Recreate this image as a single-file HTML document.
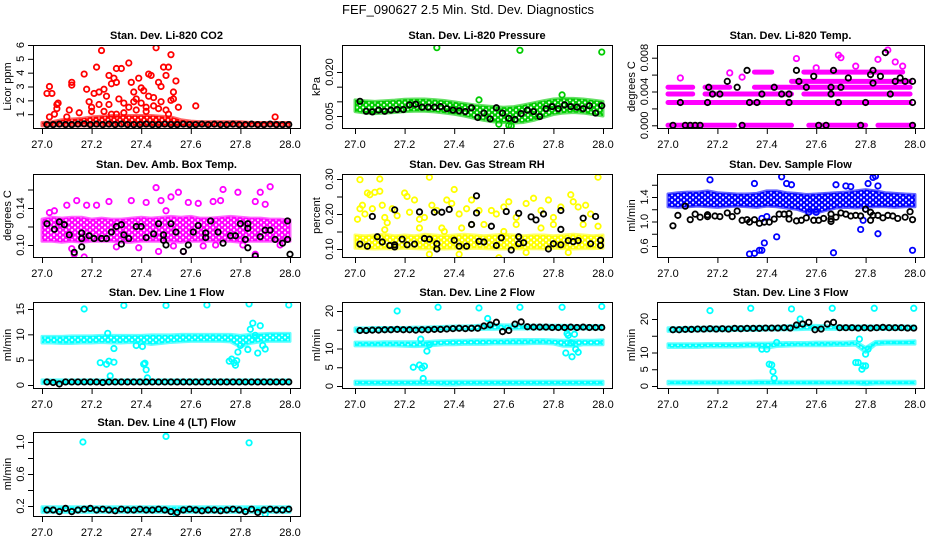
<!DOCTYPE html>
<html><head><meta charset="utf-8"><style>
html,body{margin:0;padding:0;background:#fff}
svg text{font-family:"Liberation Sans",sans-serif;fill:#000}
</style></head><body>
<svg id="c" width="936" height="540" viewBox="0 0 936 540" xmlns="http://www.w3.org/2000/svg">
<defs id="defs"></defs>
<text x="468" y="14" text-anchor="middle" font-size="13">FEF_090627  2.5 Min. Std. Dev. Diagnostics</text>
</svg>
<script>
// ---------- shared time grids ----------
const tBand=[27.0,27.04,27.08,27.12,27.16,27.2,27.24,27.28,27.32,27.36,27.4,27.44,27.48,27.52,27.56,27.6,27.64,27.68,27.72,27.76,27.8,27.84,27.88,27.92,27.96,28.0];
const tBlk=[27.02,27.045,27.07,27.095,27.12,27.145,27.17,27.195,27.22,27.245,27.27,27.295,27.32,27.345,27.37,27.395,27.42,27.445,27.47,27.495,27.52,27.545,27.57,27.595,27.62,27.645,27.67,27.695,27.72,27.745,27.77,27.795,27.82,27.845,27.87,27.895,27.92,27.945,27.97,27.995];
const xTicks=[27.0,27.2,27.4,27.6,27.8,28.0];
const xTickLabels=["27.0","27.2","27.4","27.6","27.8","28.0"];

// ---------- P1 CO2 ----------
const co2Lo=[0.15,0.15,0.15,0.15,0.15,0.15,0.15,0.15,0.15,0.15,0.15,0.15,0.15,0.15,0.15,0.15,0.15,0.15,0.15,0.15,0.15,0.15,0.15,0.15,0.15,0.15];
const co2Hi=[0.4,0.45,0.6,0.65,0.7,0.8,0.85,0.9,0.9,0.9,0.9,0.9,0.85,0.8,0.6,0.5,0.45,0.45,0.45,0.45,0.45,0.4,0.4,0.4,0.4,0.4];
const co2X=[27.02,27.03,27.04,27.03,27.05,27.06,27.065,27.06,27.11,27.12,27.12,27.17,27.18,27.19,27.2,27.21,27.22,27.23,27.24,27.25,27.26,27.27,27.28,27.29,27.3,27.31,27.32,27.3,27.33,27.35,27.36,27.37,27.38,27.39,27.4,27.41,27.42,27.43,27.44,27.45,27.46,27.47,27.48,27.49,27.5,27.51,27.52,27.52,27.53,27.54,27.55,27.62,27.94,27.27,27.3,27.35,27.4,27.45,27.5,27.23,27.2,27.37,27.43,27.48,27.53,27.1,27.15,27.25,27.28,27.33,27.38,27.42,27.47,27.51];
const co2Y=[2.5,3.0,2.5,0.8,1.0,1.7,1.8,1.4,1.3,3.3,3.1,3.9,2.8,1.9,1.5,2.5,4.4,2.6,5.6,2.8,2.3,3.8,3.2,3.6,4.3,2.1,4.3,3.3,1.8,4.7,3.3,2.6,2.1,3.6,2.9,2.7,1.5,3.9,3.8,2.2,5.8,3.3,3.0,4.4,3.8,4.4,5.3,2.0,2.6,3.4,1.5,1.6,0.8,1.7,1.0,1.5,1.8,1.6,1.3,1.7,1.2,1.9,2.3,1.9,2.1,0.8,1.1,1.2,1.0,1.1,1.3,1.2,1.4,1.0];
const co2Blk=[0.25,0.25,0.28,0.25,0.25,0.28,0.3,0.25,0.28,0.25,0.28,0.25,0.28,0.25,0.25,0.25,0.28,0.25,0.25,0.28,0.25,0.25,0.28,0.25,0.25,0.28,0.25,0.28,0.25,0.25,0.28,0.25,0.25,0.28,0.25,0.25,0.28,0.25,0.25,0.25];

// ---------- P2 Pressure ----------
const presLo=[0.0065,0.006,0.0058,0.006,0.0062,0.0065,0.0066,0.0066,0.0064,0.006,0.0056,0.005,0.0042,0.0035,0.003,0.0028,0.0026,0.0028,0.0035,0.0045,0.0055,0.006,0.0062,0.006,0.0055,0.005];
const presHi=[0.0105,0.0102,0.01,0.0102,0.0104,0.0107,0.0108,0.0108,0.0106,0.0103,0.0098,0.0093,0.0088,0.0085,0.0082,0.008,0.0082,0.0088,0.0095,0.0102,0.0108,0.011,0.011,0.0108,0.0104,0.01];
const presX=[27.33,27.665,27.995,27.835,27.58,27.62,27.63,27.5];
const presY=[0.0283,0.0274,0.0268,0.0122,0.0022,0.0018,0.0016,0.0105];
const presBlk=[0.0100,0.0066,0.0064,0.007,0.0066,0.007,0.0072,0.0072,0.0088,0.009,0.008,0.008,0.008,0.0082,0.0075,0.007,0.0068,0.0065,0.0078,0.0045,0.006,0.004,0.0078,0.006,0.0042,0.0038,0.0058,0.007,0.0065,0.0048,0.0075,0.0082,0.0075,0.0088,0.0082,0.008,0.0075,0.0085,0.006,0.0085];

// ---------- P3 Li-820 Temp (discrete levels) ----------
const tempSegStart=[27.0,27.3,27.57,27.85,27.0,27.0,27.15,27.55,27.0,27.15,27.35,27.5,27.5,27.35,27.55];
const tempSegEnd=[27.27,27.5,27.8,27.99,27.98,27.1,27.5,27.98,27.1,27.25,27.5,27.98,27.98,27.42,27.95];
const tempSegVal=[0,0,0,0,0.0027,0.0037,0.0037,0.0037,0.0045,0.0045,0.0045,0.0045,0.0052,0.0063,0.0063];
const tempX=[27.05,27.3,27.25,27.52,27.69,27.7,27.76,27.85,27.89,27.92,27.95,27.6];
const tempY=[0.0056,0.0057,0.0062,0.0079,0.0083,0.008,0.007,0.0078,0.0089,0.0075,0.007,0.0068];
const tempBlkX=[27.02,27.05,27.07,27.09,27.11,27.13,27.16,27.165,27.18,27.21,27.24,27.28,27.3,27.32,27.33,27.36,27.38,27.43,27.46,27.49,27.49,27.52,27.53,27.56,27.59,27.61,27.64,27.66,27.66,27.67,27.69,27.7,27.73,27.78,27.8,27.82,27.83,27.83,27.86,27.88,27.9,27.92,27.94,27.96,27.99,27.99,27.99];
const tempBlkY=[0,0.0027,0,0,0,0,0.0027,0.0045,0.0037,0.0037,0.0052,0.0045,0,0.0065,0.0027,0.0027,0.0037,0.0045,0.0037,0.0037,0.0027,0.0065,0.0052,0.0045,0.0058,0,0,0.0037,0.0045,0.0065,0.0027,0.0045,0.0056,0,0.0027,0.006,0.0065,0.005,0.0058,0.0086,0.0037,0.0052,0.0056,0.0052,0.0052,0.0027,0];

// ---------- P4 Amb Box Temp ----------
const boxLo=[0.104,0.104,0.103,0.104,0.103,0.104,0.104,0.104,0.103,0.103,0.104,0.104,0.104,0.104,0.103,0.104,0.104,0.104,0.104,0.104,0.103,0.104,0.104,0.104,0.104,0.104];
const boxHi=[0.128,0.13,0.129,0.13,0.13,0.128,0.129,0.128,0.128,0.129,0.13,0.129,0.13,0.131,0.13,0.131,0.129,0.129,0.13,0.131,0.13,0.129,0.129,0.128,0.128,0.127];
const boxX=[27.12,27.46,27.55,27.73,27.79,27.92,27.27,27.36,27.48,27.14,27.1,27.18,27.22,27.42,27.5,27.52,27.59,27.63,27.69,27.72,27.86,27.88,27.9,27.03,27.05,27.17,27.13,27.47,27.57,27.86,27.96,27.81,27.7,27.3,27.53,27.12,27.39,27.65];
const boxY=[0.18,0.162,0.157,0.16,0.157,0.163,0.147,0.148,0.148,0.148,0.143,0.143,0.143,0.146,0.137,0.152,0.146,0.145,0.147,0.148,0.147,0.157,0.144,0.135,0.137,0.087,0.09,0.093,0.093,0.09,0.1,0.1,0.1,0.098,0.099,0.096,0.097,0.099];
const boxBlkX=[27.02,27.05,27.07,27.09,27.11,27.13,27.16,27.16,27.16,27.19,27.21,27.24,27.26,27.28,27.3,27.32,27.32,27.33,27.35,27.38,27.4,27.42,27.45,27.47,27.49,27.49,27.5,27.52,27.54,27.57,27.59,27.61,27.63,27.66,27.66,27.68,27.71,27.73,27.76,27.78,27.8,27.82,27.83,27.83,27.83,27.86,27.88,27.9,27.92,27.94,27.97,27.99,27.99,28.0];
const boxBlkY=[0.123,0.117,0.125,0.122,0.111,0.092,0.113,0.107,0.098,0.11,0.107,0.107,0.107,0.114,0.12,0.122,0.101,0.111,0.107,0.12,0.12,0.108,0.112,0.123,0.111,0.105,0.1,0.123,0.114,0.093,0.1,0.114,0.121,0.108,0.113,0.126,0.114,0.102,0.11,0.11,0.123,0.106,0.123,0.097,0.118,0.088,0.109,0.116,0.116,0.106,0.102,0.126,0.106,0.09];

// ---------- P5 Gas Stream RH ----------
const rhLo=[0.102,0.101,0.1,0.101,0.1,0.102,0.101,0.1,0.101,0.1,0.101,0.1,0.102,0.101,0.1,0.1,0.101,0.1,0.101,0.1,0.102,0.101,0.1,0.101,0.101,0.102];
const rhHi=[0.14,0.138,0.14,0.142,0.138,0.14,0.138,0.142,0.14,0.138,0.14,0.142,0.14,0.138,0.14,0.142,0.14,0.138,0.14,0.14,0.138,0.14,0.142,0.14,0.138,0.14];
const rhX=[27.01,27.02,27.02,27.03,27.04,27.05,27.06,27.07,27.08,27.1,27.1,27.11,27.12,27.13,27.15,27.17,27.2,27.21,27.22,27.24,27.26,27.28,27.3,27.31,27.33,27.35,27.37,27.39,27.4,27.42,27.45,27.47,27.5,27.52,27.55,27.57,27.6,27.62,27.65,27.69,27.72,27.75,27.78,27.8,27.83,27.87,27.88,27.9,27.93,27.95,27.98,27.98,27.32,27.36,27.43,27.58,27.42,27.86,27.69,27.3,27.6,27.75,27.12,27.26,27.47,27.65,27.8,27.92];
const rhY=[0.185,0.215,0.298,0.225,0.2,0.26,0.255,0.215,0.262,0.265,0.3,0.225,0.19,0.175,0.215,0.195,0.26,0.25,0.205,0.24,0.185,0.19,0.305,0.225,0.21,0.16,0.24,0.23,0.27,0.2,0.215,0.24,0.21,0.17,0.21,0.2,0.22,0.235,0.19,0.23,0.245,0.21,0.24,0.19,0.22,0.255,0.235,0.22,0.225,0.2,0.305,0.165,0.13,0.15,0.16,0.075,0.085,0.09,0.09,0.085,0.15,0.16,0.155,0.16,0.17,0.17,0.17,0.17];
const rhBlkX=[27.02,27.05,27.07,27.09,27.11,27.14,27.16,27.16,27.16,27.19,27.21,27.24,27.26,27.28,27.3,27.32,27.33,27.33,27.35,27.38,27.4,27.42,27.45,27.47,27.49,27.49,27.5,27.52,27.55,27.57,27.59,27.61,27.63,27.66,27.66,27.66,27.68,27.71,27.73,27.76,27.78,27.8,27.83,27.83,27.83,27.86,27.88,27.9,27.92,27.95,27.97,27.99,27.99];
const rhBlkY=[0.114,0.108,0.193,0.135,0.12,0.11,0.212,0.112,0.106,0.128,0.112,0.114,0.206,0.13,0.128,0.205,0.115,0.1,0.205,0.213,0.125,0.108,0.108,0.17,0.252,0.203,0.122,0.12,0.165,0.11,0.132,0.207,0.097,0.202,0.135,0.115,0.118,0.192,0.183,0.2,0.1,0.115,0.21,0.156,0.112,0.124,0.121,0.124,0.188,0.115,0.193,0.11,0.125];

// ---------- P6 Sample Flow ----------
const flowLo=[1.24,1.23,1.24,1.25,1.24,1.23,1.24,1.25,1.24,1.23,1.25,1.24,1.22,1.2,1.15,1.14,1.18,1.22,1.23,1.22,1.23,1.24,1.24,1.23,1.24,1.24];
const flowHi=[1.45,1.47,1.48,1.48,1.5,1.47,1.46,1.45,1.45,1.46,1.5,1.5,1.47,1.46,1.44,1.45,1.46,1.47,1.48,1.5,1.52,1.5,1.47,1.46,1.45,1.44];
const flowX=[27.33,27.35,27.37,27.38,27.39,27.44,27.67,27.78,27.85,27.99,27.46,27.48,27.5,27.35,27.17,27.68,27.81,27.83,27.84,27.85,27.72,27.4,27.38,27.79,27.8,27.74,27.57,27.6];
const flowY=[0.47,0.48,0.53,0.53,0.65,0.75,0.49,0.87,0.8,0.53,1.73,1.62,1.6,1.62,1.68,1.6,1.62,1.72,1.74,1.58,1.58,1.08,1.05,1.02,1.2,1.57,1.15,1.15];
const flowBlkX=[27.02,27.04,27.07,27.09,27.11,27.13,27.16,27.16,27.19,27.21,27.24,27.26,27.28,27.3,27.32,27.33,27.35,27.37,27.39,27.41,27.43,27.45,27.47,27.49,27.49,27.52,27.54,27.56,27.59,27.61,27.63,27.66,27.66,27.66,27.68,27.7,27.72,27.74,27.76,27.78,27.8,27.82,27.82,27.83,27.85,27.87,27.89,27.91,27.93,27.96,27.98,27.99];
const flowBlkY=[0.93,1.1,1.25,1.03,1.12,1.07,1.08,1.11,1.09,1.08,1.14,1.08,1.17,1.02,1.03,0.99,1.03,0.97,0.99,0.99,1.04,1.12,1.12,1.13,1.04,1.01,1.02,1.06,1.02,1.02,1.05,1.12,1.0,1.04,1.07,1.14,1.12,1.09,1.1,1.09,1.2,1.02,1.15,1.1,1.1,1.06,1.1,1.09,1.05,1.07,1.16,1.03];

// ---------- P7 Line 1 Flow ----------
const l1Lo=[8.3,8.3,8.2,8.2,8.3,8.3,8.4,8.3,8.3,8.4,8.3,8.0,8.2,8.4,8.5,8.6,8.6,8.6,8.6,8.5,7.5,8.2,8.5,8.6,8.6,8.6];
const l1Hi=[9.6,9.6,9.6,9.7,9.7,9.7,9.8,9.8,9.8,9.8,9.8,9.9,9.9,9.9,10.0,10.0,10.0,10.0,10.0,10.0,9.8,10.0,10.1,10.2,10.2,10.2];
const l1BaseLo=[0.3,0.3,0.3,0.3,0.3,0.3,0.3,0.3,0.3,0.3,0.3,0.3,0.3,0.3,0.3,0.3,0.3,0.3,0.3,0.3,0.3,0.3,0.3,0.3,0.3,0.3];
const l1BaseHi=[1.0,1.0,1.0,1.0,1.0,1.0,1.0,1.0,1.0,1.0,1.0,1.0,1.0,1.0,1.0,1.0,1.0,1.0,1.0,1.0,1.0,1.0,1.0,1.0,1.0,1.0];
const l1X=[27.17,27.33,27.5,27.665,27.835,27.995,27.235,27.26,27.265,27.27,27.275,27.29,27.29,27.38,27.405,27.41,27.415,27.42,27.425,27.755,27.765,27.775,27.78,27.785,27.79,27.8,27.83,27.84,27.85,27.86,27.87,27.88,27.89,27.9];
const l1Y=[15,15.7,15.7,15.8,16,15.8,4.4,4.1,10.2,4.7,1.8,4.5,7.2,7.8,7.6,4.1,4.3,3.0,1.4,4.7,5.1,4.4,3.9,4.8,6.5,7.8,7.0,11,12.2,9.8,6.3,11.7,7.8,7.1];
const l1Blk=[0.6,0.5,0.2,0.6,0.6,0.6,0.6,0.6,0.6,0.5,0.6,0.6,0.6,0.6,0.6,0.6,0.6,0.6,0.6,0.6,0.6,0.6,0.6,0.6,0.6,0.6,0.6,0.6,0.6,0.6,0.6,0.6,0.6,0.6,0.6,0.6,0.6,0.6,0.6,0.6];

// ---------- P8 Line 2 Flow ----------
const l2TopLo=[14.5,14.5,14.6,14.6,14.7,14.7,14.7,14.8,14.8,14.9,15.0,15.0,15.0,15.1,15.1,15.2,15.2,15.2,15.2,15.2,15.2,15.2,15.2,15.2,15.2,15.2];
const l2TopHi=[15.5,15.5,15.6,15.6,15.6,15.6,15.7,15.7,15.8,15.9,16.0,16.0,16.1,16.3,16.4,16.3,16.3,16.2,16.2,16.2,16.2,16.2,16.1,16.1,16.1,16.1];
const l2MidLo=[10.7,10.7,10.7,10.7,10.7,10.6,10.5,10.6,10.8,11.0,11.0,11.1,11.1,11.1,11.2,11.2,11.2,11.2,11.3,11.3,11.2,10.6,10.6,11.0,11.0,11.0];
const l2MidHi=[11.7,11.7,11.7,11.8,11.8,11.8,11.8,11.8,12.0,12.1,12.2,12.2,12.3,12.3,12.3,12.3,12.4,12.4,12.4,12.4,12.3,12.2,12.2,12.2,12.2,12.3];
const l2BaseLo=[0.4,0.4,0.4,0.4,0.4,0.4,0.4,0.4,0.4,0.3,0.3,0.4,0.4,0.4,0.4,0.4,0.4,0.4,0.4,0.4,0.4,0.4,0.4,0.4,0.4,0.4];
const l2BaseHi=[1.3,1.3,1.3,1.3,1.3,1.3,1.3,1.3,1.3,1.3,1.3,1.3,1.3,1.3,1.3,1.3,1.3,1.3,1.3,1.3,1.3,1.3,1.3,1.3,1.3,1.3];
const l2X=[27.17,27.335,27.5,27.665,27.835,27.995,27.235,27.26,27.265,27.27,27.275,27.28,27.29,27.3,27.535,27.855,27.86,27.87,27.875,27.85,27.885,27.89,27.9];
const l2Y=[20,21,20.8,21,21,21.2,5.0,5.6,12.5,4.8,2.0,5.3,9.3,11,18,14,13.5,11.5,7.8,8.8,13.8,9.8,9.0];
const l2Blk=[14.8,14.8,14.9,14.9,15.0,15.0,15.1,15.0,15.0,14.9,15.0,15.0,15.1,15.1,15.2,15.3,15.4,15.3,15.4,15.4,16.0,16.3,17.0,14.5,14.8,16.5,17.1,15.8,15.7,15.7,15.7,15.6,15.6,15.6,15.7,15.6,15.7,15.6,15.6,15.6];

// ---------- P9 Line 3 Flow ----------
const l3TopLo=[16.3,16.3,16.4,16.4,16.5,16.5,16.5,16.6,16.6,16.6,16.7,16.7,16.8,16.8,16.9,16.9,16.9,16.9,16.9,16.9,16.9,16.9,16.9,16.9,16.9,16.9];
const l3TopHi=[17.4,17.4,17.5,17.5,17.6,17.6,17.6,17.7,17.7,17.8,17.8,17.8,17.9,18.2,18.2,18.1,18.0,17.9,17.9,17.9,17.9,17.9,17.9,17.9,17.9,17.9];
const l3MidLo=[11.5,11.5,11.5,11.5,11.6,11.6,11.6,11.6,11.7,11.7,11.3,11.8,11.9,12.0,12.0,12.0,12.0,12.1,12.1,12.2,10.0,12.3,12.5,12.5,12.5,12.5];
const l3MidHi=[12.6,12.6,12.6,12.6,12.7,12.7,12.7,12.7,12.8,12.8,12.8,12.9,13.0,13.0,13.0,13.1,13.1,13.1,13.1,13.3,11.5,13.3,13.4,13.4,13.4,13.5];
const l3BaseLo=[0.6,0.6,0.6,0.6,0.6,0.6,0.6,0.6,0.6,0.6,0.6,0.6,0.6,0.6,0.6,0.6,0.6,0.6,0.6,0.6,0.4,0.6,0.6,0.6,0.6,0.6];
const l3BaseHi=[1.4,1.4,1.4,1.4,1.4,1.4,1.4,1.4,1.4,1.5,1.5,1.4,1.4,1.4,1.4,1.4,1.4,1.4,1.4,1.4,1.4,1.4,1.4,1.4,1.4,1.4];
const l3X=[27.17,27.335,27.5,27.665,27.835,27.995,27.41,27.42,27.425,27.43,27.76,27.77,27.785,27.79,27.8,27.8,27.81,27.535,27.775,27.4,27.38,27.44];
const l3Y=[22.5,23.2,23,23.2,23.2,23.2,6.5,6.3,4.3,2.3,7,7,5,6,6,9.5,11,20,14,11,11,13];
const l3Blk=[16.8,16.8,16.9,16.9,17.0,17.0,17.1,17.0,17.1,17.0,17.2,17.1,17.2,17.2,17.2,17.3,17.3,17.3,17.4,17.3,18.2,18.5,19.0,16.8,17.0,18.5,19.0,17.4,17.4,17.4,17.3,17.4,17.3,17.4,17.5,17.4,17.4,17.4,17.3,17.3];

// ---------- P10 Line 4 (LT) Flow ----------
const l4Lo=[0.12,0.12,0.12,0.12,0.12,0.12,0.12,0.12,0.12,0.12,0.12,0.12,0.12,0.12,0.12,0.12,0.12,0.12,0.12,0.12,0.12,0.12,0.12,0.12,0.12,0.12];
const l4Hi=[0.19,0.19,0.19,0.19,0.19,0.19,0.19,0.19,0.19,0.19,0.19,0.19,0.19,0.19,0.19,0.19,0.19,0.19,0.19,0.19,0.19,0.19,0.19,0.19,0.19,0.19];
const l4X=[27.165,27.5,27.835,27.54,27.9];
const l4Y=[1.0,1.07,0.99,0.1,0.1];
const l4Blk=[0.15,0.15,0.13,0.17,0.13,0.15,0.16,0.17,0.15,0.16,0.15,0.14,0.16,0.15,0.15,0.16,0.15,0.15,0.16,0.15,0.13,0.12,0.15,0.16,0.15,0.14,0.15,0.15,0.14,0.15,0.16,0.15,0.13,0.16,0.12,0.15,0.16,0.15,0.15,0.16];

// ---------- rendering ----------
const NS="http://www.w3.org/2000/svg";
const svg=document.getElementById('c');
const defs=document.getElementById('defs');
function el(tag,attrs,parent){const e=document.createElementNS(NS,tag);for(const k in attrs)e.setAttribute(k,attrs[k]);(parent||svg).appendChild(e);return e;}
const patIds={};
function pattern(color){
  if(patIds[color])return patIds[color];
  const id='pat'+Object.keys(patIds).length;
  const p=el('pattern',{id:id,width:6,height:5,patternUnits:'userSpaceOnUse'},defs);
  [[0,0],[6,0],[0,5],[6,5],[3,2.5]].forEach(c=>el('circle',{cx:c[0],cy:c[1],r:2.1,fill:'none',stroke:color,'stroke-width':1.7},p));
  patIds[color]=id;return id;
}
const cols=[{l:33,r:300,x0:42,x1:290},{l:342,r:612,x0:355,x1:603},{l:657,r:924,x0:668,x1:915}];
const rows=[{t:45,b:128},{t:174,b:257},{t:302,b:388},{t:432,b:516}];

function panel(o){
  const c=cols[o.col],r=rows[o.row];
  const g=el('g',{});
  
  
  const xs=v=>c.x0+(v-27)*(c.x1-c.x0);
  const ys=v=>o.p0+(v-o.v0)*(o.p1-o.p0)/(o.v1-o.v0);
  const cl=el('clipPath',{id:'cp'+o.name},g);
  el('rect',{x:c.l,y:r.t,width:c.r-c.l,height:r.b-r.t},cl);
  const plot=el('g',{'clip-path':'url(#cp'+o.name+')'},g);
  (o.bands||[]).forEach(b=>{
    let pts=[];
    tBand.forEach((t,i)=>pts.push(xs(t)+','+ys(b.hi[i])));
    for(let i=tBand.length-1;i>=0;i--)pts.push(xs(tBand[i])+','+ys(b.lo[i]));
    const p=el('polygon',{points:pts.join(' '),fill:'url(#'+pattern(b.color)+')',stroke:b.color,'stroke-width':3,'stroke-opacity':0.6,'stroke-linejoin':'round'},plot);
    
    
  });
  (o.segs||[]).forEach(s=>{
    s.start.forEach((st,i)=>{
      const ln=el('line',{x1:xs(st),x2:xs(s.end[i]),y1:ys(s.val[i]),y2:ys(s.val[i]),stroke:s.color,'stroke-width':5,'stroke-linecap':'round'},plot);
      
      
    });
  });
  (o.pts||[]).forEach(s=>{
    s.x.forEach((xv,i)=>{
      const ci=el('circle',{cx:xs(xv),cy:ys(s.y[i]),r:2.7,fill:'none',stroke:s.color,'stroke-width':1.8},plot);
      
      
    });
  });
  const box=el('rect',{x:c.l+0.5,y:r.t+0.5,width:c.r-c.l,height:r.b-r.t,fill:'none',stroke:'#000','stroke-width':1},g);
  
  
  xTicks.forEach((t,i)=>{
    el('line',{x1:xs(t)+0.5,x2:xs(t)+0.5,y1:r.b+0.5,y2:r.b+6,stroke:'#000'},g);
    const tx=el('text',{x:xs(t),y:r.b+20,'text-anchor':'middle','font-size':11},g);
    
    
    tx.textContent=xTickLabels[i];
  });
  el('line',{x1:xs(27)+0.5,x2:xs(28)+0.5,y1:r.b+0.5,y2:r.b+0.5,stroke:'#000'},g);
  o.yt.forEach(t=>{el('line',{x1:c.l-5,x2:c.l+0.5,y1:ys(t)+0.5,y2:ys(t)+0.5,stroke:'#000'},g);});
  o.yl.forEach((lab,i)=>{
    const yy=ys(o.ylv[i]);
    const tx=el('text',{x:c.l-9,y:yy,'text-anchor':'middle','font-size':11,transform:'rotate(-90 '+(c.l-9)+' '+yy+')'},g);
    
    
    tx.textContent=lab;
  });
  const ymid=(r.t+r.b)/2, ax=c.l-22;
  const yt=el('text',{x:ax,y:ymid,'text-anchor':'middle','font-size':11,transform:'rotate(-90 '+ax+' '+ymid+')'},g);
  
  
  yt.textContent=o.ylab;
  const tt=el('text',{x:(c.l+c.r)/2,y:r.t-6,'text-anchor':'middle','font-size':11,'font-weight':'bold'},g);
  
  
  tt.textContent=o.title;
}
const K='#000';
panel({name:'co2-panel',col:0,row:0,title:'Stan. Dev. Li-820 CO2',ylab:'Licor ppm',v0:0,p0:128,v1:6,p1:45,yt:[1,2,3,4,5,6],yl:['1','2','3','4','5','6'],ylv:[1,2,3,4,5,6],
 bands:[{lo:co2Lo,hi:co2Hi,color:'#ff0000'}],pts:[{x:co2X,y:co2Y,color:'#ff0000'},{x:tBlk,y:co2Blk,color:K}]});
panel({name:'pressure-panel',col:1,row:0,title:'Stan. Dev. Li-820 Pressure',ylab:'kPa',v0:0.005,p0:116,v1:0.020,p1:72,yt:[0.005,0.010,0.015,0.020],yl:['0.005','0.020'],ylv:[0.005,0.020],
 bands:[{lo:presLo,hi:presHi,color:'#00cc00'}],pts:[{x:presX,y:presY,color:'#00cc00'},{x:tBlk,y:presBlk,color:K}]});
panel({name:'temp-panel',col:2,row:0,title:'Stan. Dev. Li-820 Temp.',ylab:'degrees C',v0:0,p0:125.3,v1:0.008,p1:57.7,yt:[0,0.002,0.004,0.006,0.008],yl:['0.000','0.004','0.008'],ylv:[0,0.004,0.008],
 segs:[{start:tempSegStart,end:tempSegEnd,val:tempSegVal,color:'#ff00ff'}],pts:[{x:tempX,y:tempY,color:'#ff00ff'},{x:tempBlkX,y:tempBlkY,color:K}]});
panel({name:'box-temp-panel',col:0,row:1,title:'Stan. Dev. Amb. Box Temp.',ylab:'degrees C',v0:0.10,p0:245,v1:0.14,p1:208,yt:[0.10,0.12,0.14,0.16],yl:['0.10','0.14'],ylv:[0.10,0.14],
 bands:[{lo:boxLo,hi:boxHi,color:'#ff00ff'}],pts:[{x:boxX,y:boxY,color:'#ff00ff'},{x:boxBlkX,y:boxBlkY,color:K}]});
panel({name:'rh-panel',col:1,row:1,title:'Stan. Dev. Gas Stream RH',ylab:'percent',v0:0.10,p0:249,v1:0.30,p1:179,yt:[0.10,0.15,0.20,0.25,0.30],yl:['0.10','0.20','0.30'],ylv:[0.10,0.20,0.30],
 bands:[{lo:rhLo,hi:rhHi,color:'#ffff00'}],pts:[{x:rhX,y:rhY,color:'#ffff00'},{x:rhBlkX,y:rhBlkY,color:K}]});
panel({name:'sample-flow-panel',col:2,row:1,title:'Stan. Dev. Sample Flow',ylab:'ml/min',v0:0.6,p0:246,v1:1.4,p1:197,yt:[0.6,0.8,1.0,1.2,1.4,1.6],yl:['0.6','1.0','1.4'],ylv:[0.6,1.0,1.4],
 bands:[{lo:flowLo,hi:flowHi,color:'#0000ff'}],pts:[{x:flowX,y:flowY,color:'#0000ff'},{x:flowBlkX,y:flowBlkY,color:K}]});
panel({name:'line1-panel',col:0,row:2,title:'Stan. Dev. Line 1 Flow',ylab:'ml/min',v0:0,p0:385,v1:15,p1:309,yt:[0,5,10,15],yl:['0','5','10','15'],ylv:[0,5,10,15],
 bands:[{lo:l1Lo,hi:l1Hi,color:'#00ffff'},{lo:l1BaseLo,hi:l1BaseHi,color:'#00ffff'}],pts:[{x:l1X,y:l1Y,color:'#00ffff'},{x:tBlk,y:l1Blk,color:K}]});
panel({name:'line2-panel',col:1,row:2,title:'Stan. Dev. Line 2 Flow',ylab:'ml/min',v0:0,p0:386,v1:20,p1:311,yt:[0,5,10,15,20],yl:['0','5','10','20'],ylv:[0,5,10,20],
 bands:[{lo:l2TopLo,hi:l2TopHi,color:'#00ffff'},{lo:l2MidLo,hi:l2MidHi,color:'#00ffff'},{lo:l2BaseLo,hi:l2BaseHi,color:'#00ffff'}],pts:[{x:l2X,y:l2Y,color:'#00ffff'},{x:tBlk,y:l2Blk,color:K}]});
panel({name:'line3-panel',col:2,row:2,title:'Stan. Dev. Line 3 Flow',ylab:'ml/min',v0:0,p0:386,v1:20,p1:319,yt:[0,5,10,15,20],yl:['0','5','10','20'],ylv:[0,5,10,20],
 bands:[{lo:l3TopLo,hi:l3TopHi,color:'#00ffff'},{lo:l3MidLo,hi:l3MidHi,color:'#00ffff'},{lo:l3BaseLo,hi:l3BaseHi,color:'#00ffff'}],pts:[{x:l3X,y:l3Y,color:'#00ffff'},{x:tBlk,y:l3Blk,color:K}]});
panel({name:'line4-panel',col:0,row:3,title:'Stan. Dev. Line 4 (LT) Flow',ylab:'ml/min',v0:0.2,p0:506,v1:1.0,p1:442,yt:[0.2,0.4,0.6,0.8,1.0],yl:['0.2','0.6','1.0'],ylv:[0.2,0.6,1.0],
 bands:[{lo:l4Lo,hi:l4Hi,color:'#00ffff'}],pts:[{x:l4X,y:l4Y,color:'#00ffff'},{x:tBlk,y:l4Blk,color:K}]});
</script>
</body></html>
